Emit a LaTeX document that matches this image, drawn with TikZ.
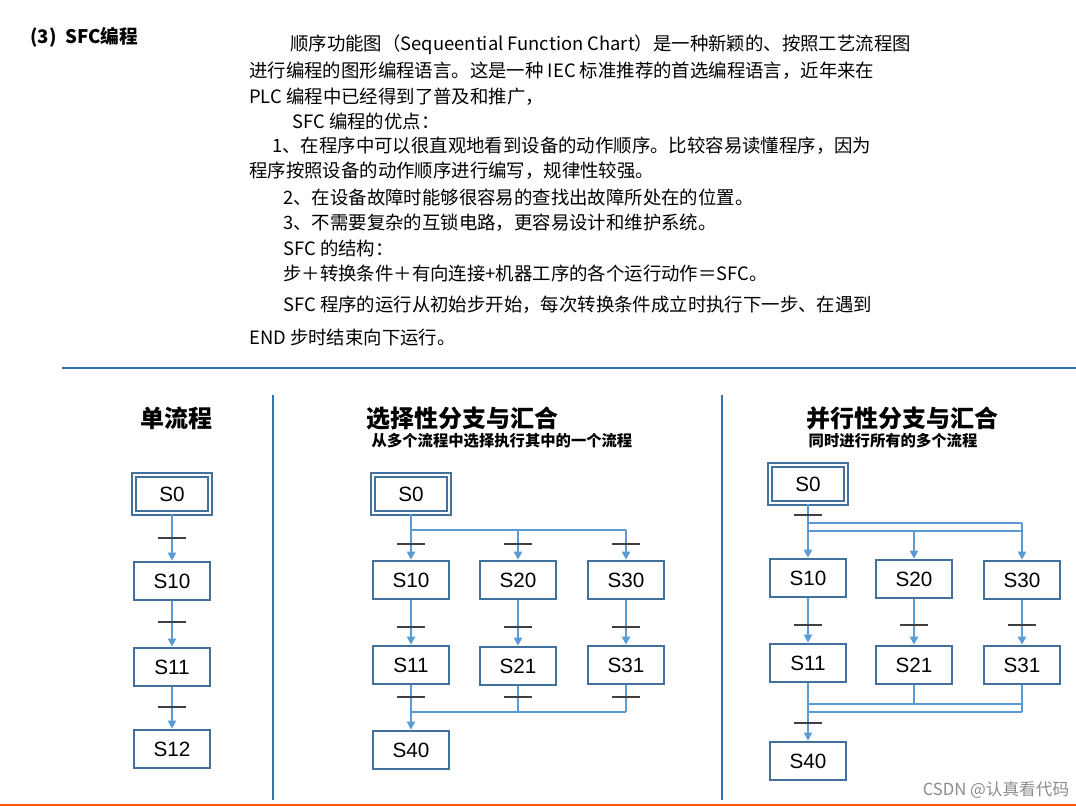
\documentclass[tikz,border=0pt]{standalone}
\usepackage{fontspec}
\setmainfont{Liberation Serif}
\newfontfamily\cjk{Noto Sans CJK SC}
\newfontfamily\lab{Liberation Sans}
\usetikzlibrary{arrows.meta}
\definecolor{boxc}{HTML}{41719C}
\definecolor{linec}{HTML}{5B9BD5}
\definecolor{sepc}{HTML}{2E75B6}
\tikzset{
 stepbox/.style={draw=boxc,line width=2pt,minimum width=57pt,minimum height=28.5pt,inner sep=0pt,font=\lab\fontsize{15.5}{15.5}\selectfont},
 initbox/.style={stepbox,double=white,double distance=2pt,line width=1.5pt},
 flow/.style={draw=linec,line width=1.5pt},
 arr/.style={flow,-{Triangle[length=6pt,width=6pt]}},
 bar/.style={draw=black!75,line width=1.5pt},
 txt/.style={anchor=west,inner sep=0pt,font=\cjk\fontsize{13.8}{13.8}\selectfont},
 ttl/.style={inner sep=0pt,font=\cjk\bfseries\fontsize{18}{18}\selectfont},
 sub/.style={inner sep=0pt,font=\cjk\bfseries\fontsize{11.5}{11.5}\selectfont}
}
\newcommand{\tbar}[2]{\draw[bar] (#1-14,#2) -- (#1+14,#2);}
\begin{document}
\begin{tikzpicture}[x=0.75pt,y=-0.75pt]
\useasboundingbox (0,0) rectangle (1076,807);
\fill[white] (0,0) rectangle (1076,807);
% header text
\node[txt,font=\cjk\bfseries\fontsize{14}{14}\selectfont] (h) at (30,37) {(3)\ \ SFC编程};
\node[txt] (t1) at (290,45) {顺序功能图（Sequeential Function Chart）是一种新颖的、按照工艺流程图};
\node[txt] (t2) at (249,71) {进行编程的图形编程语言。这是一种 IEC 标准推荐的首选编程语言，近年来在};
\node[txt] (t3) at (249,97) {PLC 编程中已经得到了普及和推广，};
\node[txt] (t4) at (292,121) {SFC 编程的优点：};
\node[txt] (t5) at (272,146) {1、在程序中可以很直观地看到设备的动作顺序。比较容易读懂程序，因为};
\node[txt] (t6) at (249,171) {程序按照设备的动作顺序进行编写，规律性较强。};
\node[txt] (t7) at (283,197) {2、在设备故障时能够很容易的查找出故障所处在的位置。};
\node[txt] (t8) at (283,223) {3、不需要复杂的互锁电路，更容易设计和维护系统。};
\node[txt] (t9) at (283,248) {SFC 的结构：};
\node[txt] (t10) at (283,273) {步＋转换条件＋有向连接+机器工序的各个运行动作＝SFC。};
\node[txt] (t11) at (283,305) {SFC 程序的运行从初始步开始，每次转换条件成立时执行下一步、在遇到};
\node[txt] (t12) at (249,338) {END 步时结束向下运行。};
% separators
\draw[sepc,line width=1.5pt] (62,368) -- (1076,368);
\draw[sepc,line width=1.5pt] (273,395) -- (273,800);
\draw[sepc,line width=1.5pt] (722,395) -- (722,800);
\draw[orange!70!red,line width=1pt] (0,805) -- (1076,805);
% titles
\node[ttl] (ta) at (176,418) {单流程};
\node[ttl] (tb) at (462,418) {选择性分支与汇合};
\node[sub] (sb) at (502,441) {从多个流程中选择执行其中的一个流程};
\node[ttl] (tc) at (902,418) {并行性分支与汇合};
\node[sub] (sc) at (893,441) {同时进行所有的多个流程};
% single flow
\node[initbox] (a0) at (172,494) {S0};
\node[stepbox] (a10) at (172,581) {S10};
\node[stepbox] (a11) at (172,667) {S11};
\node[stepbox] (a12) at (172,749) {S12};
\draw[arr] (a0) -- (a10); \draw[arr] (a10) -- (a11); \draw[arr] (a11) -- (a12);
\tbar{172}{538}\tbar{172}{622}\tbar{172}{707}
% selective
\node[initbox] (b0) at (411,494) {S0};
\node[stepbox] (b10) at (411,580) {S10};
\node[stepbox] (b20) at (518,580) {S20};
\node[stepbox] (b30) at (626,580) {S30};
\node[stepbox] (b11) at (411,665) {S11};
\node[stepbox] (b21) at (518,666) {S21};
\node[stepbox] (b31) at (626,665) {S31};
\node[stepbox] (b40) at (411,750) {S40};
\coordinate (bs) at (411,530); \coordinate (bs2) at (518,530); \coordinate (bs3) at (626,530);
\coordinate (bm1) at (411,712); \coordinate (bm2) at (518,712); \coordinate (bm3) at (626,712);
\draw[flow] (b0.south) -- (bs); \draw[flow] (bs) -- (bs3);
\draw[arr] (bs) -- (b10); \draw[arr] (bs2) -- (b20); \draw[arr] (bs3) -- (b30);
\draw[arr] (b10) -- (b11); \draw[arr] (b20) -- (b21); \draw[arr] (b30) -- (b31);
\draw[flow] (b11.south) -- (bm1); \draw[flow] (b21.south) -- (bm2); \draw[flow] (b31.south) -- (bm3);
\draw[flow] (bm1) -- (bm3);
\draw[arr] (bm1) -- (b40);
\tbar{411}{544}\tbar{518}{544}\tbar{626}{544}
\tbar{411}{627}\tbar{518}{627}\tbar{626}{627}
\tbar{411}{697}\tbar{518}{697}\tbar{626}{697}
% parallel
\node[initbox] (c0) at (808,484) {S0};
\node[stepbox] (c10) at (808,578) {S10};
\node[stepbox] (c20) at (914,579) {S20};
\node[stepbox] (c30) at (1022,580) {S30};
\node[stepbox] (c11) at (808,663) {S11};
\node[stepbox] (c21) at (914,665) {S21};
\node[stepbox] (c31) at (1022,665) {S31};
\node[stepbox] (c40) at (808,761) {S40};
\coordinate (cs1) at (808,531); \coordinate (cs2) at (914,531); \coordinate (cs3) at (1022,531);
\coordinate (ct1) at (808,523); \coordinate (ct3) at (1022,523);
\coordinate (cm1) at (808,704); \coordinate (cm2) at (914,704); \coordinate (cm3) at (1022,704);
\coordinate (cn1) at (808,712); \coordinate (cn3) at (1022,712);
\draw[flow] (c0.south) -- (ct1); \draw[flow] (ct1) -- (ct3); \draw[flow] (cs1) -- (cs3);
\draw[arr] (ct1) -- (c10); \draw[arr] (cs2) -- (c20); \draw[arr] (ct3) -- (c30);
\draw[arr] (c10) -- (c11); \draw[arr] (c20) -- (c21); \draw[arr] (c30) -- (c31);
\draw[flow] (c11.south) -- (cm1); \draw[flow] (c21.south) -- (cm2); \draw[flow] (c31.south) -- (cn3);
\draw[flow] (cm1) -- (cm3); \draw[flow] (cn1) -- (cn3);
\draw[arr] (cm1) -- (c40);
\tbar{808}{515}\tbar{914}{625}\tbar{808}{625}\tbar{1022}{625}\tbar{808}{723}
% watermark
\node[inner sep=0pt,text=black!45,font=\cjk\fontsize{12.5}{12.5}\selectfont] (wm) at (996,790) {CSDN @认真看代码};
\end{tikzpicture}
\end{document}
